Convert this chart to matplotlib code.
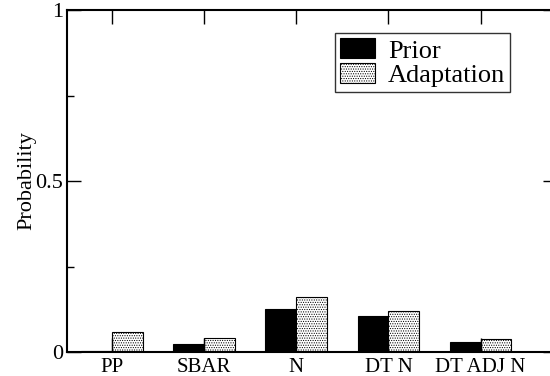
import numpy as np
import matplotlib
matplotlib.use('Agg')
import matplotlib.pyplot as plt
from matplotlib.ticker import MultipleLocator

plt.rcParams['font.family'] = ['Liberation Serif', 'DejaVu Serif']
plt.rcParams['hatch.linewidth'] = 0.5

categories = ['PP', 'SBAR', 'N', 'DT N', 'DT ADJ N']
prior = [0.002, 0.023, 0.126, 0.104, 0.030]
adaptation = [0.059, 0.040, 0.162, 0.121, 0.038]

fig = plt.figure(figsize=(5.5, 3.76), dpi=100)
# right spine sits just past the figure edge, like the original
ax = fig.add_axes([67/550, 24/376, (557-67)/550, (352-10)/376])

x = np.arange(len(categories))
w = 0.335
ax.bar(x - w/2, prior, w, color='black', edgecolor='black', linewidth=0.8, label='Prior')
ax.bar(x + w/2, adaptation, w, color='white', edgecolor='black', linewidth=0.8,
       hatch='.......', label='Adaptation')

ax.set_xlim(-0.49, 4.83)
ax.set_ylim(0, 1)
ax.set_xticks(x)
ax.set_xticklabels(categories, fontsize=15)
ax.set_yticks([0, 0.5, 1])
ax.set_yticklabels(['0', '0.5', '1'], fontsize=16)
ax.yaxis.set_minor_locator(MultipleLocator(0.25))
ax.tick_params(axis='both', which='major', direction='in', length=10, width=1,
               top=True, right=True)
ax.tick_params(axis='y', which='minor', direction='in', length=5, width=1, right=True)
ax.tick_params(axis='x', which='major', pad=4)
ax.tick_params(axis='y', which='major', pad=3)
for s in ax.spines.values():
    s.set_linewidth(1.5)
ax.set_ylabel('Probability', fontsize=16, labelpad=-1)

leg = ax.legend(loc='upper left', bbox_to_anchor=((335-67)/490, (352-33)/342),
                fontsize=19, frameon=True, fancybox=False, edgecolor='black',
                handlelength=1.3, handleheight=0.8, handletextpad=0.5,
                borderpad=0.2, labelspacing=0.0, borderaxespad=0)
leg.get_frame().set_linewidth(1.0)

fig.savefig('out.png', dpi=100)
